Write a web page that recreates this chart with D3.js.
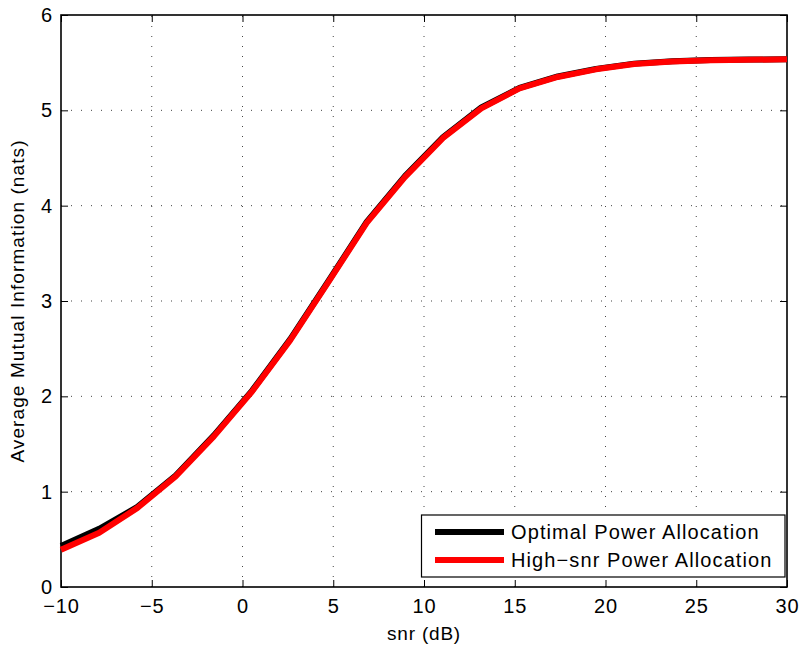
<!DOCTYPE html>
<html><head><meta charset="utf-8">
<script src="https://cdn.jsdelivr.net/npm/d3@7"></script>
<style>body{margin:0;background:#fff}svg{display:block}text{font-family:"Liberation Sans",Arial,Helvetica,sans-serif;fill:#000}</style>
</head><body><svg id="c" width="803" height="649"></svg>
<script>
const snr = d3.range(20).map(k => -10 + k * 40 / 19);
const optimal = [0.43, 0.61, 0.84, 1.17, 1.59, 2.06, 2.60, 3.21, 3.83, 4.31, 4.72, 5.03, 5.235, 5.355, 5.435, 5.49, 5.515, 5.527, 5.532, 5.536];
const highSnr = [0.39, 0.57, 0.83, 1.16, 1.58, 2.05, 2.59, 3.20, 3.82, 4.30, 4.71, 5.02, 5.23, 5.35, 5.43, 5.485, 5.512, 5.525, 5.53, 5.535];
const xTicks = [-10, -5, 0, 5, 10, 15, 20, 25, 30];
const yTicks = [0, 1, 2, 3, 4, 5, 6];
const seriesNames = ["Optimal Power Allocation", "High\u2212snr Power Allocation"];
const seriesColors = ["#000000", "#ff0000"];

const svg = d3.select("#c");
const L = 61, T = 15, R = 787, B = 587;
const x = d3.scaleLinear().domain([-10, 30]).range([L, R]);
const y = d3.scaleLinear().domain([0, 6]).range([B, T]);
const fmt = v => (v < 0 ? "\u2212" + Math.abs(v) : String(v));

// grid
const g = svg.append("g");
g.selectAll("line.vx").data(xTicks.slice(1, -1)).join("line")
  .attr("x1", d => x(d)).attr("x2", d => x(d)).attr("y1", B).attr("y2", T)
  .attr("stroke", "#444").attr("stroke-width", 1).attr("stroke-dasharray", "1,9");
g.selectAll("line.hy").data(yTicks.slice(1, -1)).join("line")
  .attr("x1", L).attr("x2", R).attr("y1", d => y(d)).attr("y2", d => y(d))
  .attr("stroke", "#444").attr("stroke-width", 1).attr("stroke-dasharray", "1,9");

// axes with inward ticks
const tl = 7;
svg.append("g").attr("transform", `translate(0,${B})`)
  .call(d3.axisBottom(x).tickValues(xTicks).tickSize(-tl).tickPadding(12).tickFormat(fmt))
  .call(a => { a.select(".domain").remove(); a.selectAll("text").attr("font-size", 20).attr("letter-spacing", 0.8); a.selectAll("line").attr("stroke-width", 1); });
svg.append("g").attr("transform", `translate(0,${T})`)
  .call(d3.axisTop(x).tickValues(xTicks).tickSize(-tl).tickFormat(""))
  .call(a => a.select(".domain").remove());
svg.append("g").attr("transform", `translate(${L},0)`)
  .call(d3.axisLeft(y).tickValues(yTicks).tickSize(-tl).tickPadding(9).tickFormat(fmt))
  .call(a => { a.select(".domain").remove(); a.selectAll("text").attr("font-size", 20); });
svg.append("g").attr("transform", `translate(${R},0)`)
  .call(d3.axisRight(y).tickValues(yTicks).tickSize(-tl).tickFormat(""))
  .call(a => a.select(".domain").remove());

svg.append("rect").attr("x", L).attr("y", T).attr("width", R - L).attr("height", B - T)
  .attr("fill", "none").attr("stroke", "#000").attr("stroke-width", 1.6);

// lines
const line = d3.line().x((d, i) => x(snr[i])).y(d => y(d));
[optimal, highSnr].forEach((s, i) => {
  svg.append("path").datum(s).attr("d", line).attr("fill", "none")
    .attr("stroke", seriesColors[i]).attr("stroke-width", 6).attr("stroke-linejoin", "round");
});

// axis labels
svg.append("text").attr("x", (L + R) / 2).attr("y", 640).attr("text-anchor", "middle")
  .attr("font-size", 19).attr("letter-spacing", 0.8).text("snr (dB)");
svg.append("text").attr("transform", `translate(24,${(T + B) / 2}) rotate(-90)`).attr("text-anchor", "middle")
  .attr("font-size", 19).attr("letter-spacing", 1.1).text("Average Mutual Information (nats)");

// legend
const lg = svg.append("g");
lg.append("rect").attr("x", 421.5).attr("y", 515).attr("width", 363.5).attr("height", 62)
  .attr("fill", "#fff").attr("stroke", "#000").attr("stroke-width", 1.2);
seriesNames.forEach((n, i) => {
  const yy = 532 + i * 28;
  lg.append("line").attr("x1", 435).attr("x2", 504).attr("y1", yy).attr("y2", yy)
    .attr("stroke", seriesColors[i]).attr("stroke-width", 6);
  lg.append("text").attr("x", 511).attr("y", yy + 7).attr("font-size", 20).attr("letter-spacing", 1.1).text(n);
});
</script></body></html>
